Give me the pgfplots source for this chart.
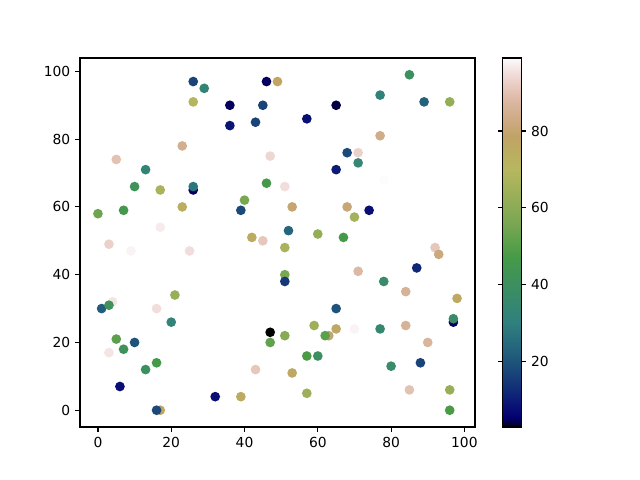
\documentclass[border=0pt]{standalone}
\usepackage{pgfplots}
\pgfplotsset{compat=1.18}
\usepackage{fontspec}
\setmainfont{DejaVu Sans}
\pgfplotsset{
colormap={gistearth}{
rgb(0)=(0,0,0);
rgb(3.9)=(0.0026,0,0.1684);
rgb(7.8)=(0.0052,0,0.2212);
rgb(27.5)=(0.0183,0,0.4329);
rgb(31.4)=(0.0209,0.0090,0.4549);
rgb(109.8)=(0.0732,0.1893,0.4691);
rgb(164.7)=(0.1098,0.3035,0.4791);
rgb(207.8)=(0.1385,0.3841,0.4869);
rgb(282.4)=(0.1882,0.5020,0.5004);
rgb(458.8)=(0.2714,0.6036,0.2845);
rgb(466.7)=(0.2890,0.6081,0.2748);
rgb(521.6)=(0.4110,0.6397,0.3068);
rgb(545.1)=(0.4632,0.6500,0.3205);
rgb(549.0)=(0.4719,0.6517,0.3217);
rgb(698.0)=(0.7176,0.7171,0.3688);
rgb(784.3)=(0.7537,0.6426,0.3961);
rgb(788.2)=(0.7553,0.6392,0.4057);
rgb(815.7)=(0.7861,0.6549,0.4730);
rgb(866.7)=(0.8431,0.6991,0.5980);
rgb(874.5)=(0.8518,0.7103,0.6171);
rgb(894.1)=(0.8737,0.7377,0.6651);
rgb(898.0)=(0.8781,0.7430,0.6769);
rgb(941.2)=(0.9264,0.8275,0.8071);
rgb(956.9)=(0.9440,0.8635,0.8544);
rgb(964.7)=(0.9527,0.8816,0.8779);
rgb(996.1)=(0.9878,0.9733,0.9725);
rgb(1000)=(0.9922,0.9843,0.9843)
}}
\pgfplotstableread{
x y c
26 97 17
29 95 33
26 91 69
36 90 5
46 97 5
49 97 78
45 90 17
36 84 9
43 85 17
23 78 85
5 74 90
47 75 94
13 71 33
10 66 42
17 65 67
26 65 5
26 66 28
46 67 47
0 58 54
7 59 46
23 60 74
40 62 56
39 59 18
17 54 97
3 49 93
42 51 76
45 50 91
85 99 40
77 93 31
89 91 23
96 91 62
65 90 4
57 86 8
77 81 84
68 76 18
71 76 93
71 73 34
65 71 10
78 68 99
51 66 95
53 60 80
68 60 81
70 57 66
74 59 8
52 53 24
60 52 62
67 51 47
9 47 98
25 47 95
21 34 63
4 32 96
1 30 22
3 31 42
16 30 95
20 26 32
47 23 3
47 20 52
5 21 51
7 18 42
10 20 20
3 17 96
16 14 47
13 12 40
43 12 91
6 7 8
32 4 8
39 4 75
17 0 78
16 0 18
51 48 67
92 48 91
93 46 82
87 42 12
71 41 88
78 38 37
51 40 56
51 38 15
84 35 86
98 33 76
65 30 20
97 26 5
97 27 37
59 25 64
65 24 77
70 24 98
77 24 35
84 25 86
51 22 59
63 22 80
62 22 51
90 20 87
57 16 48
60 16 40
80 13 37
88 14 17
53 11 77
57 5 64
85 6 90
96 6 63
96 0 48
}\pts
\begin{document}
\begin{tikzpicture}
\path[use as bounding box] (0,0) rectangle (460.8bp,345.6bp);
\begin{axis}[
  at={(57.6bp,38.16bp)}, anchor=south west,
  scale only axis, width=284.4bp, height=265.68bp,
  xmin=-4.9, xmax=102.9, ymin=-4.95, ymax=103.95,
  xtick={0,20,40,60,80,100}, ytick={0,20,40,60,80,100},
  tick align=outside, xtick pos=bottom, ytick pos=left,
  major tick length=3.5bp,
  tick style={black, line width=0.8bp},
  axis line style={line width=0.8bp},
  tick label style={font=\fontsize{10}{12}\selectfont},
  /pgf/number format/assume math mode=true,
  colormap name=gistearth,
  point meta min=3, point meta max=99,
  colorbar,
  colorbar style={
    at={(parent axis.south east)}, anchor=south west, xshift=11.5bp,
    scale only axis, width=13.3bp, height=265.68bp,
    ytick={20,40,60,80},
    yticklabel pos=right,
    tick align=outside, major tick length=3.5bp,
    tick style={black, line width=0.8bp},
    axis line style={line width=0.8bp},
    tick label style={font=\fontsize{10}{12}\selectfont},
    /pgf/number format/assume math mode=true,
  },
]
\addplot[scatter, only marks, scatter src=explicit, mark=*, mark size=3.5bp,
  scatter/use mapped color={draw opacity=0, fill=mapped color}]
  table[x=x, y=y, meta=c] {\pts};
\end{axis}
\end{tikzpicture}
\end{document}
